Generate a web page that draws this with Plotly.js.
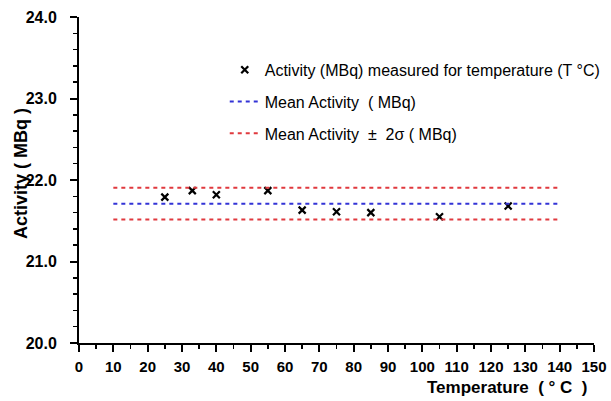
<!DOCTYPE html>
<html><head><meta charset="utf-8">
<script src="https://cdn.plot.ly/plotly-3.0.1.min.js"></script>
<style>body{margin:0;background:#fff}#c{width:611px;height:401px}</style>
</head><body><div id="c"></div>
<script>
const temps = [25, 33, 40, 55, 65, 75, 85, 105, 125];
const activity = [21.79, 21.87, 21.82, 21.87, 21.63, 21.61, 21.60, 21.55, 21.68];
const lineX = [10, 140];
const meanActivity = 21.71;
const upper2s = 21.905;
const lower2s = 21.515;
const xTickVals = [0, 10, 20, 30, 40, 50, 60, 70, 80, 90, 100, 110, 120, 130, 140, 150];
const xTickText = xTickVals.map(v => '<b>' + v + '</b>');
const yTickVals = [20, 21, 22, 23, 24];
const yTickText = yTickVals.map(v => '<b>' + v.toFixed(1) + '</b>');

const dashPat = '4px,4px';
const traces = [
  {x: temps, y: activity, mode: 'markers', type: 'scatter', legendgroup: 'a',
   name: 'Activity (MBq) measured for temperature (T °C)',
   marker: {symbol: 'x-thin', size: 7, color: '#000', line: {width: 2.2, color: '#000'}}},
  {x: lineX, y: [meanActivity, meanActivity], mode: 'lines', type: 'scatter', legendgroup: 'b',
   name: 'Mean Activity  ( MBq)', line: {color: '#3333d6', width: 2, dash: dashPat}},
  {x: lineX, y: [upper2s, upper2s], mode: 'lines', type: 'scatter', legendgroup: 'c',
   name: 'Mean Activity  ±  2σ ( MBq)', line: {color: '#e0393e', width: 2, dash: dashPat}},
  {x: lineX, y: [lower2s, lower2s], mode: 'lines', type: 'scatter', legendgroup: 'c',
   name: 'lower', showlegend: false, line: {color: '#e0393e', width: 2, dash: dashPat}}
];

const F = 'Liberation Sans, Arial, sans-serif';
const layout = {
  width: 611, height: 401,
  margin: {l: 79, r: 17, t: 17, b: 58, autoexpand: false},
  paper_bgcolor: '#fff', plot_bgcolor: '#fff',
  font: {family: F, color: '#000', size: 16},
  showlegend: true,
  legend: {x: 0.283, y: 0.89, xanchor: 'left', yanchor: 'top', bgcolor: 'rgba(0,0,0,0)',
           font: {size: 16}, traceorder: 'grouped', tracegroupgap: 8},
  xaxis: {range: [0, 150], showgrid: false, zeroline: false, showline: true, linecolor: '#000', linewidth: 2,
          ticks: 'outside', tickvals: xTickVals, ticktext: xTickText, ticklen: 7, tickwidth: 2, tickcolor: '#000',
          tickfont: {size: 15, weight: 'bold'}, ticklabelstandoff: 2,
          minor: {dtick: 5, ticks: 'outside', ticklen: 4, tickwidth: 1.5, tickcolor: '#000'},
          fixedrange: true},
  yaxis: {range: [20, 24], showgrid: false, zeroline: false, showline: true, linecolor: '#000', linewidth: 2,
          ticks: 'outside', tickvals: yTickVals, ticktext: yTickText, ticklen: 7, tickwidth: 2, tickcolor: '#000',
          tickfont: {size: 16, weight: 'bold'}, ticklabelstandoff: 10,
          minor: {dtick: 0.2, ticks: 'outside', ticklen: 4, tickwidth: 1.5, tickcolor: '#000'},
          fixedrange: true},
  annotations: [
    {text: 'Temperature\u00a0 ( ° C\u00a0 )', xref: 'paper', yref: 'paper', x: 0.99, y: 0, xanchor: 'right', yanchor: 'top',
     yshift: -33, showarrow: false, font: {size: 17, weight: 'bold'}},
    {text: 'Activity ( MBq )', xref: 'paper', yref: 'paper', x: -0.113, y: 0.521, xanchor: 'center', yanchor: 'middle',
     textangle: -90, showarrow: false, font: {size: 18, weight: 'bold'}}
  ]
};
Plotly.newPlot('c', traces, layout, {displayModeBar: false, staticPlot: true});
</script></body></html>
